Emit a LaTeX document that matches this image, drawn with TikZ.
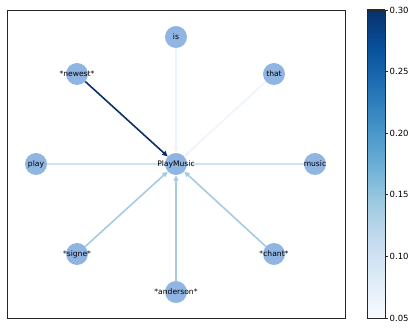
\documentclass[tikz,border=0pt]{standalone}
\usepackage{fontspec}
\setmainfont{DejaVu Sans}
\usetikzlibrary{arrows.meta}
\definecolor{nodeblue}{RGB}{144,181,226}
\definecolor{wtop}{RGB}{8,48,107}
\definecolor{wmid}{RGB}{163,204,227}
\definecolor{wlow}{RGB}{207,225,242}
\definecolor{wmin}{RGB}{236,244,252}
% Blues colour map stops
\definecolor{cmA}{HTML}{F7FBFF}
\definecolor{cmB}{HTML}{DEEBF7}
\definecolor{cmC}{HTML}{C6DBEF}
\definecolor{cmD}{HTML}{9ECAE1}
\definecolor{cmE}{HTML}{6BAED6}
\definecolor{cmF}{HTML}{4292C6}
\definecolor{cmG}{HTML}{2171B5}
\definecolor{cmH}{HTML}{08519C}
\definecolor{cmI}{HTML}{08306B}
\begin{document}
\begin{tikzpicture}[x=1pt, y=-1pt,
    word/.style={circle, fill=nodeblue, minimum size=22pt, inner sep=0pt},
    wordlabel/.style={font=\fontsize{7.6}{9}\selectfont, inner sep=0pt},
    edge/.style={line width=1.6pt, -{Triangle[length=5.5pt, width=5pt]}},
    tick/.style={font=\fontsize{8.5}{10}\selectfont, anchor=west, inner sep=0pt}]
    \useasboundingbox (0, 0) rectangle (416, 331);
    % word nodes
    \node[word] (is) at (176, 37) {};
    \node[word] (newest) at (77, 74) {};
    \node[word] (that) at (274, 74) {};
    \node[word] (play) at (36, 164) {};
    \node[word] (pm) at (176, 164) {};
    \node[word] (music) at (315, 164) {};
    \node[word] (signe) at (77, 254) {};
    \node[word] (chant) at (274, 254) {};
    \node[word] (anderson) at (176, 292) {};
    % weighted edges
    \draw[edge, wmin] (is) -- (pm);
    \draw[edge, wmin] (that) -- (pm);
    \draw[edge, wlow] (play) -- (pm);
    \draw[edge, wlow] (music) -- (pm);
    \draw[edge, wmid] (signe) -- (pm);
    \draw[edge, wmid] (chant) -- (pm);
    \draw[edge, wmid] (anderson) -- (pm);
    \draw[edge, wtop] (newest) -- (pm);
    % labels
    \node[wordlabel] (is-lbl) at (is) {is};
    \node[wordlabel] (newest-lbl) at (newest) {*newest*};
    \node[wordlabel] (that-lbl) at (that) {that};
    \node[wordlabel] (play-lbl) at (play) {play};
    \node[wordlabel] (pm-lbl) at (pm) {PlayMusic};
    \node[wordlabel] (music-lbl) at (music) {music};
    \node[wordlabel] (signe-lbl) at (signe) {*signe*};
    \node[wordlabel] (chant-lbl) at (chant) {*chant*};
    \node[wordlabel] (anderson-lbl) at (anderson) {*anderson*};
    % axes frame
    \draw[black!85, line width=0.8pt] (7, 10) rectangle (345, 318);
    % colour bar
    \foreach \lo/\hi [count=\i from 0] in {cmA/cmB, cmB/cmC, cmC/cmD, cmD/cmE, cmE/cmF, cmF/cmG, cmG/cmH, cmH/cmI}
        \shade[bottom color=\lo, top color=\hi]
            (367, {318 - \i*38.5}) rectangle (385, {318 - (\i+1)*38.5 - 0.3});
    \draw[black!85, line width=0.8pt] (367, 10) rectangle (385, 318);
    \foreach \v [count=\i from 0] in {0.05, 0.10, 0.15, 0.20, 0.25, 0.30} {
        \draw[black!85, line width=0.6pt] (385, {318 - \i*61.6}) -- (388, {318 - \i*61.6});
        \node[tick] (tick\i) at (389.5, {318 - \i*61.6}) {\v};
    }
\end{tikzpicture}
\end{document}
